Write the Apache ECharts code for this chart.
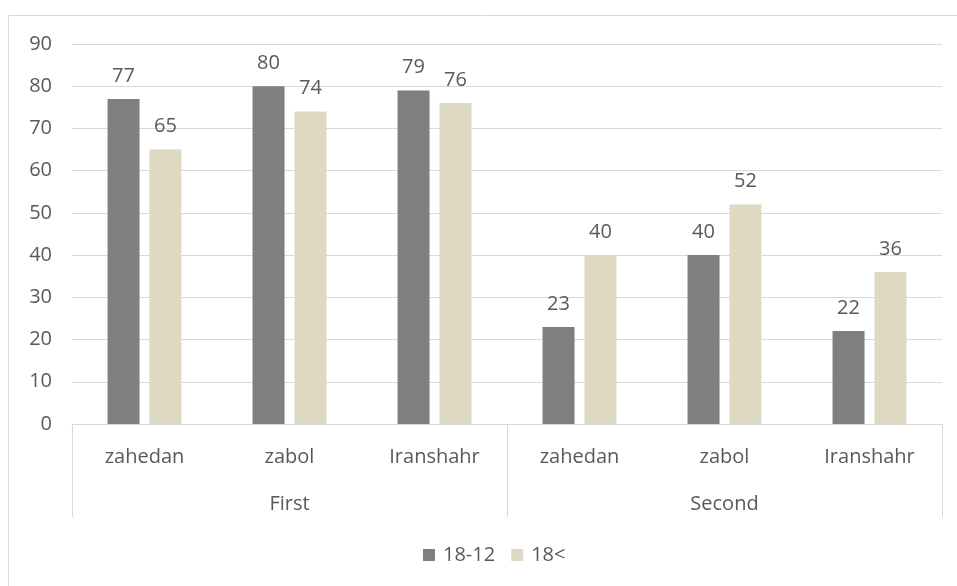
<!DOCTYPE html>
<html>
<head>
<meta charset="utf-8">
<script src="https://cdn.jsdelivr.net/npm/echarts@6/dist/echarts.min.js"></script>
<style>
  html, body { margin: 0; padding: 0; background: #fff; }
  #root { width: 957px; height: 586px; }
</style>
</head>
<body>
<div id="root"></div>
<script>
// data
var cities = ['zahedan', 'zabol', 'Iranshahr', 'zahedan', 'zabol', 'Iranshahr'];
var groups = ['First', 'Second'];
var ageYoung = [77, 80, 79, 23, 40, 22];   // 18-12
var ageOld = [65, 74, 76, 40, 52, 36];     // 18<
var yTicks = { min: 0, max: 90, step: 10 };

var txt = '#595959';
var lineCol = '#d9d9d9';
var font = 'Open Sans';

var myChart = echarts.init(document.getElementById('root'), null, { renderer: 'canvas' });

var labelOpt = {
  show: true,
  position: 'top',
  distance: 13,
  color: txt,
  fontFamily: font,
  fontSize: 20
};

var option = {
  animation: false,
  textStyle: { fontFamily: font },
  graphic: [{
    type: 'rect',
    shape: { x: 8.5, y: 15.5, width: 1200, height: 1200 },
    style: { fill: 'none', stroke: lineCol, lineWidth: 1 },
    silent: true
  }],
  grid: { left: 72, right: 15, top: 44, bottom: 162 },
  legend: {
    top: 540,
    left: 418,
    icon: 'rect',
    itemWidth: 12,
    itemHeight: 12,
    itemGap: 16,
    textStyle: { color: txt, fontSize: 20, fontFamily: font, padding: [0, 0, 0, 3] },
    data: ['18-12', '18<']
  },
  xAxis: [
    {
      type: 'category',
      data: cities,
      axisLine: { lineStyle: { color: lineCol } },
      axisTick: { show: false },
      axisLabel: { color: txt, fontSize: 20, fontFamily: font, margin: 23, interval: 0 }
    },
    {
      type: 'category',
      data: groups,
      position: 'bottom',
      axisLine: { show: false },
      axisTick: { show: true, length: 93, lineStyle: { color: lineCol } },
      axisLabel: { color: txt, fontSize: 20, fontFamily: font, margin: 70 }
    }
  ],
  yAxis: {
    type: 'value',
    min: yTicks.min,
    max: yTicks.max,
    interval: yTicks.step,
    axisLine: { show: false },
    axisTick: { show: false },
    axisLabel: { color: txt, fontSize: 20, fontFamily: font, margin: 20 },
    splitLine: { lineStyle: { color: lineCol } }
  },
  series: [
    {
      name: '18-12',
      type: 'bar',
      data: ageYoung,
      barWidth: 32,
      barGap: '31%',
      itemStyle: { color: '#7f7f7f' },
      label: labelOpt
    },
    {
      name: '18<',
      type: 'bar',
      data: ageOld,
      barWidth: 32,
      itemStyle: { color: '#ddd9c3' },
      label: labelOpt
    }
  ]
};

myChart.setOption(option);
</script>
</body>
</html>
